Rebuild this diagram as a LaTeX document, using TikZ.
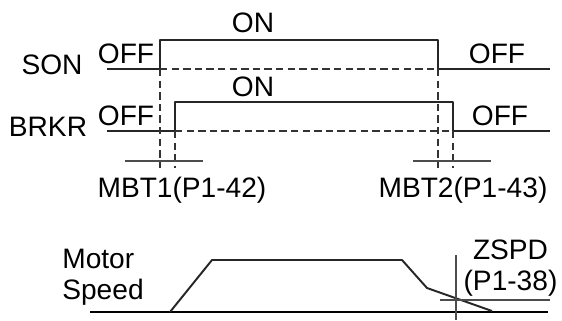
\documentclass[tikz,border=0pt]{standalone}
\usepackage{fontspec}
\setmainfont{Liberation Sans}
\usepackage{tikz}
\usetikzlibrary{calc}

\begin{document}
\begin{tikzpicture}[line join=round,
  wave/.style={line width=1.1pt,black!85},
  guide/.style={line width=0.8pt,black!80,dashed,dash pattern=on 4.2pt off 2.4pt},
  tickln/.style={line width=0.8pt,black!70},
  lbl/.style={font=\fontsize{16}{17.5}\selectfont,inner sep=0pt}]
  \useasboundingbox (0,0) rectangle (11.24,6.40);
  % SON
  \coordinate (S0) at (2.140,5.020);
  \coordinate (S1) at (3.200,5.020);
  \coordinate (S2) at (3.200,5.600);
  \coordinate (S3) at (8.760,5.600);
  \coordinate (S4) at (8.760,5.020);
  \coordinate (S5) at (11.000,5.020);
  % BRKR
  \coordinate (B0) at (2.140,3.780);
  \coordinate (B1) at (3.500,3.780);
  \coordinate (B2) at (3.500,4.360);
  \coordinate (B3) at (9.060,4.360);
  \coordinate (B4) at (9.060,3.780);
  \coordinate (B5) at (11.000,3.780);
  % delay markers
  \coordinate (D1) at (3.200,3.040);
  \coordinate (D2) at (3.500,3.040);
  \coordinate (D3) at (8.760,3.040);
  \coordinate (D4) at (9.060,3.040);
  \coordinate (L1) at (2.500,3.180);
  \coordinate (L2) at (4.060,3.180);
  \coordinate (R1) at (8.260,3.180);
  \coordinate (R2) at (9.820,3.180);
  % motor speed
  \coordinate (A0) at (1.800,0.160);
  \coordinate (A1) at (10.960,0.160);
  \coordinate (M0) at (3.400,0.160);
  \coordinate (M1) at (4.240,1.200);
  \coordinate (M2) at (8.040,1.200);
  \coordinate (M3) at (8.540,0.640);
  \coordinate (M4) at (9.840,0.180);
  \coordinate (Z0) at (8.800,0.400);
  \coordinate (Z1) at (11.000,0.400);
  \coordinate (V0) at (9.120,1.300);
  \coordinate (V1) at (9.120,0.000);

  \draw[wave] (S0) -- (S1) -- (S2) -- (S3) -- (S4) -- (S5);
  \draw[guide] (S1) -- (S4);
  \draw[wave] (B0) -- (B1) -- (B2) -- (B3) -- (B4) -- (B5);
  \draw[guide] (B1) -- (B4);
  \draw[guide] (S1) -- (D1);
  \draw[guide] (B1) -- (D2);
  \draw[guide] (S4) -- (D3);
  \draw[guide] (B4) -- (D4);
  \draw[tickln] (L1) -- (L2);
  \draw[tickln] (R1) -- (R2);

  \draw[line width=1.6pt] (A0) -- (A1);
  \draw[wave] (M0) -- (M1) -- (M2) -- (M3) -- (M4);
  \draw[tickln] (Z0) -- (Z1);
  \draw[tickln] (V0) -- (V1);

  \node[lbl] (on1) at (5.060,5.940) {ON};
  \node[lbl] (on2) at (5.060,4.660) {ON};
  \node[lbl] (son) at (1.040,5.100) {SON};
  \node[lbl] (brkr) at (0.960,3.860) {BRKR};
  \node[lbl] (offa) at (2.520,5.320) {OFF};
  \node[lbl] (offb) at (2.520,4.080) {OFF};
  \node[lbl] (offc) at (9.940,5.320) {OFF};
  \node[lbl] (offd) at (10.000,4.080) {OFF};
  \node[lbl] (mbt1) at (3.640,2.600) {MBT1(P1-42)};
  \node[lbl] (mbt2) at (9.260,2.600) {MBT2(P1-43)};
  \node[lbl,align=left,anchor=west] (spd) at (1.240,0.860) {Motor\\Speed};
  \node[lbl,align=center] (zspd) at (10.210,1.040) {ZSPD\\(P1-38)};
\end{tikzpicture}
\end{document}
